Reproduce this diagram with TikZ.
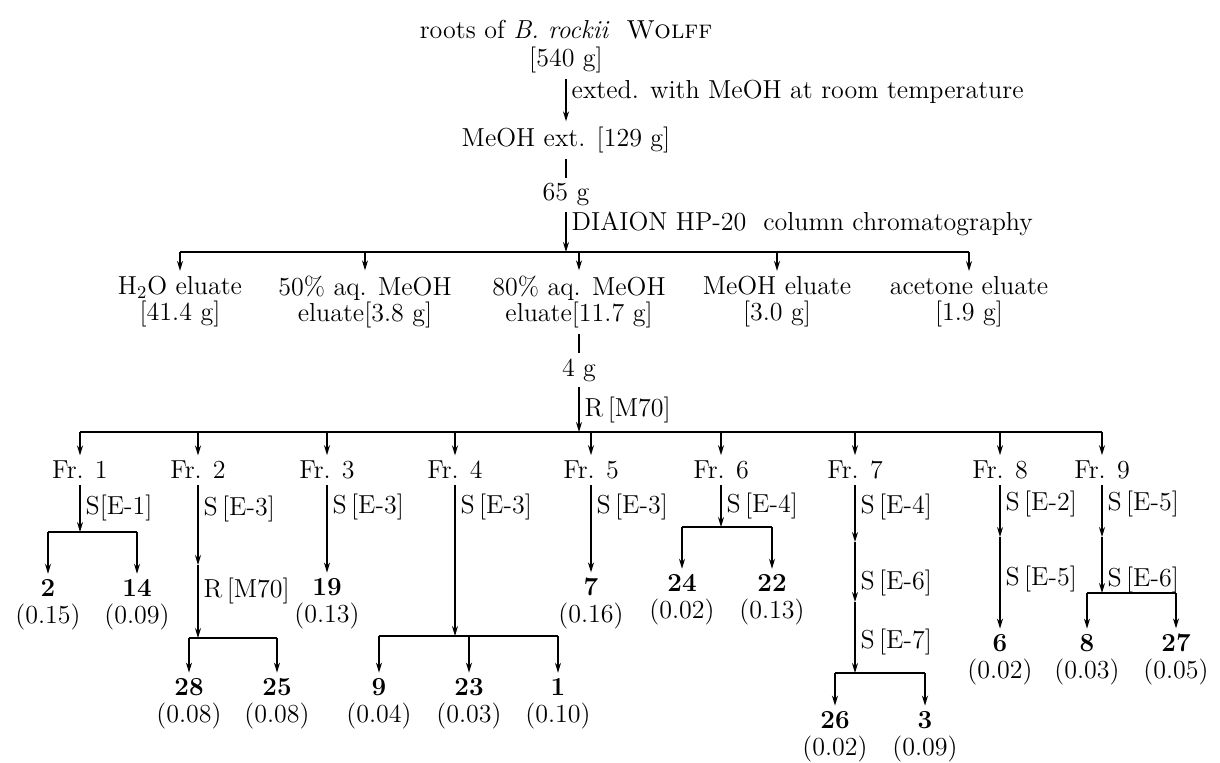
\documentclass[tikz,border=0pt]{standalone}
\usetikzlibrary{arrows.meta}
\begin{document}
\begin{tikzpicture}[x=0.5pt,y=-0.5pt,line width=0.7pt,>={Stealth[length=5pt,width=3pt]},
  font=\fontsize{13}{13}\selectfont,every node/.style={inner sep=2.5pt},
  lbl/.style={right},
  cpd/.style={font=\fontsize{13}{13}\selectfont\bfseries}]
\useasboundingbox (0,0) rectangle (1220,762);
% extraction
\node (root) at (566,30) {roots of \textit{B. rockii}\ \ \textsc{Wolff}};
\node (g540) at (566,60) {\relax[540 g]};
\node (ext) at (566,140) {MeOH ext. [129 g]};
\node (g65) at (566,195) {65 g};
\draw[->] (g540) -- (ext) node[lbl,pos=0.3] {exted. with MeOH at room temperature};
\draw (ext) -- (g65);
\coordinate (bus1) at (566,252);
\draw[->] (g65) -- (bus1) node[lbl,pos=0.3] {DIAION HP-20\ \ column chromatography};
% eluates
\node[align=center] (el1) at (180,302) {H$_2$O eluate\\\relax[41.4 g]};
\node[align=center] (el2) at (365,302) {50\% aq. MeOH\\eluate[3.8 g]};
\node[align=center] (el3) at (579,302) {80\% aq. MeOH\\eluate[11.7 g]};
\node[align=center] (el4) at (777,302) {MeOH eluate\\\relax[3.0 g]};
\node[align=center] (el5) at (969,302) {acetone eluate\\\relax[1.9 g]};
\draw (el1 |- bus1) -- (el5 |- bus1);
\foreach \i in {1,...,5} \draw[->] (el\i |- bus1) -- (el\i);
\node (g4) at (579,370) {4 g};
\draw (el3) -- (g4);
\coordinate (bus2) at (579,432);
\draw[->] (g4) -- (bus2) node[lbl,midway] {R\,[M70]};
% fractions
\foreach \i/\x in {1/80,2/198,3/327,4/455,5/591,6/721,7/855,8/1000,9/1102} {
  \node (fr\i) at (\x,470) {Fr. \i};
  \draw[->] (fr\i |- bus2) -- (fr\i);
}
\draw (fr1 |- bus2) -- (fr9 |- bus2);
% compounds (yield in %)
\foreach \n/\x/\y/\v in {2/48/588/0.15, 14/137/588/0.09, 28/189/687/0.08, 25/277/687/0.08,
  19/327/587/0.13, 9/379/687/0.04, 23/469/687/0.03, 1/558/687/0.10, 7/591/587/0.16,
  24/682/583/0.02, 22/772/583/0.13, 26/835/720/0.02, 3/925/720/0.09, 6/1000/643/0.02,
  8/1087/643/0.03, 27/1176/643/0.05} {
  \node[cpd] (c\n) at (\x,\y) {\n};
  \node (y\n) at (\x,{\y+29}) {(\v)};
}
% Fr. 1
\coordinate (b1) at (80,532);
\draw[->] (fr1) -- (b1) node[lbl,midway] {S[E-1]};
\draw (c2 |- b1) -- (c14 |- b1);
\foreach \n in {2,14} \draw[->] (c\n |- b1) -- (c\n);
% Fr. 2
\coordinate (m2) at (198,565);
\coordinate (b2) at (198,638);
\draw[->] (fr2) -- (m2) node[lbl,pos=0.3] {S\,[E-3]};
\draw[->] (m2) -- (b2) node[lbl,pos=0.35] {R\,[M70]};
\draw (c28 |- b2) -- (c25 |- b2);
\foreach \n in {28,25} \draw[->] (c\n |- b2) -- (c\n);
% Fr. 3
\draw[->] (fr3) -- (c19) node[lbl,pos=0.25] {S\,[E-3]};
% Fr. 4
\coordinate (b4) at (455,636);
\draw[->] (fr4) -- (b4) node[lbl,pos=0.15] {S\,[E-3]};
\draw (c9 |- b4) -- (c1 |- b4);
\foreach \n in {9,23,1} \draw[->] (c\n |- b4) -- (c\n);
% Fr. 5
\draw[->] (fr5) -- (c7) node[lbl,pos=0.25] {S\,[E-3]};
% Fr. 6
\coordinate (b6) at (721,527);
\draw[->] (fr6) -- (b6) node[lbl,midway] {S\,[E-4]};
\draw (c24 |- b6) -- (c22 |- b6);
\foreach \n in {24,22} \draw[->] (c\n |- b6) -- (c\n);
% Fr. 7
\coordinate (m7a) at (855,542);
\coordinate (m7b) at (855,602);
\coordinate (b7) at (855,673);
\draw[->] (fr7) -- (m7a) node[lbl,pos=0.38] {S\,[E-4]};
\draw[->] (m7a) -- (m7b) node[lbl,pos=0.68] {S\,[E-6]};
\draw[->] (m7b) -- (b7) node[lbl,pos=0.56] {S\,[E-7]};
\draw (c26 |- b7) -- (c3 |- b7);
\foreach \n in {26,3} \draw[->] (c\n |- b7) -- (c\n);
% Fr. 8
\coordinate (m8) at (1000,537);
\draw[->] (fr8) -- (m8) node[lbl,pos=0.36] {S\,[E-2]};
\draw[->] (m8) -- (c6) node[lbl,pos=0.46] {S\,[E-5]};
% Fr. 9
\coordinate (m9) at (1102,537);
\coordinate (b9) at (1102,593);
\draw[->] (fr9) -- (m9) node[lbl,pos=0.36] {S\,[E-5]};
\draw[->] (m9) -- (b9) node[lbl,pos=0.77] {S\,[E-6]};
\draw (c8 |- b9) -- (c27 |- b9);
\foreach \n in {8,27} \draw[->] (c\n |- b9) -- (c\n);
\end{tikzpicture}
\end{document}
